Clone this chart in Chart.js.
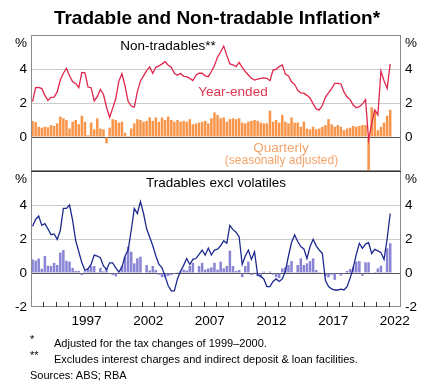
<!DOCTYPE html>
<html>
<head>
<meta charset="utf-8">
<script src="https://cdn.jsdelivr.net/npm/chart.js@4.4.1/dist/chart.umd.min.js"></script>
<style>
  body { margin: 0; background: #fff; }
  #wrap { position: relative; width: 433px; height: 391px; overflow: hidden; font-family: Arial, "Liberation Sans", sans-serif; color: #000; }
  canvas { position: absolute; left: 0; }
  .lbl { position: absolute; white-space: nowrap; line-height: 1; transform: translate(-50%, -50%); font-size: 13.5px; z-index: 5; }
  .note { position: absolute; white-space: nowrap; line-height: 1; font-size: 11px; }
</style>
</head>
<body>
<div id="wrap">
  <div class="lbl" style="left:217px; top:17px; font-size:19px; font-weight:bold;">Tradable and Non-tradable Inflation*</div>
  <canvas id="topChart" width="433" height="191" style="top:0;"></canvas>
  <canvas id="bottomChart" width="433" height="185" style="top:150px;"></canvas>

  <div class="lbl" style="left:168px; top:45.5px;">Non-tradables**</div>
  <div class="lbl" style="left:233px; top:92px; color:#e0344f;">Year-ended</div>
  <div class="lbl" style="left:281px; top:147.5px; color:#f4a46a;">Quarterly</div>
  <div class="lbl" style="left:281.5px; top:160px; color:#f4a46a; font-size:12px;">(seasonally adjusted)</div>
  <div class="lbl" style="left:216px; top:183px;">Tradables excl volatiles</div>

  <div class="note" style="left:30px; top:334px;">*</div>
  <div class="note" style="left:54px; top:338px;">Adjusted for the tax changes of 1999–2000.</div>
  <div class="note" style="left:30px; top:350px;">**</div>
  <div class="note" style="left:54px; top:354px;">Excludes interest charges and indirect deposit &amp; loan facilities.</div>
  <div class="note" style="left:30px; top:370px;">Sources: ABS; RBA</div>
</div>

<script>
// quarterly data, March quarter 1993 to March quarter 2022
const firstYear = 1993;

// non-tradables, year-ended %
const nonTradablesYearEnded = [
  2.08, 2.9, 2.92, 2.85, 2.45, 2.15, 2.33, 2.35, 2.65, 3.35,
  3.75, 4.04, 3.6, 3.25, 3.15, 2.9, 3.8, 3.78, 2.94, 2.9,
  2.12, 2.37, 2.8, 2.5, 1.75, 1.16, 1.7, 2.25, 3.3, 3.72,
  3.0, 2.1, 1.82, 1.76, 2.67, 3.3, 3.6, 3.9, 4.12, 3.75,
  4.1, 4.18, 4.3, 4.43, 4.22, 4.1, 3.75, 3.63, 3.75, 3.57,
  3.55, 3.45, 3.32, 3.63, 3.75, 3.75, 3.6, 3.55, 3.85, 4.2,
  4.7, 5.0, 5.35, 4.8, 4.3, 4.25, 4.14, 4.39, 4.1, 3.85,
  3.65, 3.45, 3.35, 3.4, 3.45, 3.48, 3.45, 3.31, 3.94, 3.98,
  4.14, 4.24, 3.7, 3.59, 3.25, 3.1, 2.75, 2.6, 2.58, 2.45,
  2.3, 1.95, 1.65, 1.59, 1.85, 2.35, 2.6, 2.85, 3.16, 3.16,
  3.12, 2.65, 2.35, 2.2, 1.88, 1.72, 1.78, 1.95, 2.2, -0.18,
  0.8, 1.59, 1.3, 3.88, 3.3, 2.85, 4.3
];

// non-tradables, quarterly % (seasonally adjusted)
const nonTradablesQuarterly = [
  0.94, 0.88, 0.6, 0.55, 0.6, 0.57, 0.7, 0.65, 0.8, 1.2,
  1.1, 1.0, 0.5, 0.9, 1.0, 0.75, 1.25, 0.9, 0.1, 0.85,
  0.45, 1.1, 0.5, 0.45, -0.37, 0.55, 1.05, 1.0, 0.85, 0.9,
  0.25, 0.05, 0.5, 0.8, 1.05, 1.0, 0.9, 0.95, 1.15, 0.95,
  1.15, 0.9, 1.15, 1.0, 1.2, 1.0, 0.9, 1.0, 0.9, 0.95,
  0.9, 1.05, 0.75, 0.8, 0.85, 0.9, 0.95, 0.8, 1.1, 1.45,
  1.3, 1.1, 1.15, 0.9, 1.05, 1.1, 1.05, 1.1, 0.85, 0.8,
  0.9, 0.95, 1.0, 0.95, 0.85, 0.8, 0.8, 1.55, 0.9, 1.0,
  0.85, 1.3, 0.9, 0.8, 1.15, 0.85, 0.85, 0.6, 0.9, 0.5,
  0.45, 0.6, 0.45, 0.5, 0.6, 0.7, 1.05, 0.75, 0.6, 0.7,
  0.6, 0.4, 0.5, 0.55, 0.65, 0.6, 0.65, 0.7, 0.7, -3.0,
  1.75, 1.5, 0.4, 0.6, 0.85, 1.25, 1.6
];

// tradables excl volatiles, year-ended %
const tradablesYearEnded = [
  2.75, 3.15, 3.35, 2.8, 2.9, 2.6, 2.25, 2.3, 1.98, 2.5,
  3.8, 3.8, 4.0, 3.1, 1.9, 1.25, 0.6, 0.15, 0.25, 0.5,
  1.05, 1.0, 0.9, 0.41, 0.2, 0.6, 0.6, 0.3, 0.05, 0.35,
  1.0, 1.35, 2.5, 3.8, 3.5, 4.2, 3.5, 2.6, 2.1, 1.6,
  1.0, 0.5, 0.3, -0.2, -0.75, -1.05, -1.05, -0.35, 0.1, 0.45,
  0.85, 0.5, 0.8, 0.85, 1.1, 1.35, 1.05, 1.47, 1.06, 1.35,
  1.4, 1.6, 1.9, 1.75, 2.8, 2.55, 2.4, 2.14, 0.5, 1.0,
  1.35, 0.8, 1.25, -0.12, -0.2, -0.35, -0.8, -0.8, -0.5, -0.35,
  -0.5, -0.35, 0.1, 1.0, 1.8, 2.24, 1.85, 1.55, 1.42, 0.85,
  1.55, 1.98, 1.6, 1.35, 1.15, -0.45, -0.8, -0.94, -1.0, -1.0,
  -0.95, -1.0, -0.8, -0.3, 0.3, 1.1, 1.75, 1.45, 1.7, 1.78,
  1.15, 1.39, 1.3, 1.2, 0.8, 2.0, 3.5
];

// tradables excl volatiles, quarterly %
const tradablesQuarterly = [
  0.8, 0.73, 0.85, 0.25, 1.0, 0.43, 0.41, 0.6, 0.47, 1.2,
  1.35, 0.72, 0.67, 0.3, 0.12, 0.12, -0.12, 0.1, 0.27, 0.4,
  0.41, 0.05, 0.3, 0.1, 0.27, -0.05, -0.12, -0.2, -0.05, 0.41,
  0.96, 1.55, 1.25, 0.57, 0.86, 0.96, 0.0, 0.47, 0.15, 0.41,
  0.18, -0.1, -0.25, -0.25, -0.18, -0.12, -0.06, 0.05, 0.1, 0.2,
  0.15, 0.41, 0.6, 0.02, 0.41, 0.6, 0.2, 0.27, 0.33, 0.6,
  0.2, 0.67, 0.27, 0.41, 1.31, 0.41, 0.12, 0.18, -0.25, 0.41,
  0.67, -0.12, 0.04, -0.18, -0.25, 0.08, 0.0, 0.08, -0.1, -0.25,
  -0.3, 0.27, 0.33, 0.47, 0.7, 0.05, 0.47, 0.86, 0.47, 0.57,
  0.7, 0.86, 0.18, 0.05, 0.0, -0.2, -0.25, -0.1, -0.4, -0.05,
  -0.15, -0.05, 0.12, 0.24, 0.37, 0.67, 0.7, -0.16, 0.63, 0.63,
  0.0, 0.05, 0.27, 0.43, 0.05, 1.45, 1.75
];

const yearLabels = [1997, 2002, 2007, 2012, 2017, 2022];
const yTicks = [-2, 0, 2, 4, 6];
const xMin = 1993, xMax = 2023;

// quarter labels like '1993-Q1'
const quarterLabels = nonTradablesYearEnded.map((_, i) =>
  (firstYear + Math.floor(i / 4)) + '-Q' + (i % 4 + 1));

function quarterToX(lbl) {
  const parts = lbl.split('-Q');
  return +parts[0] + (+parts[1] - 0.5) / 4;
}

function toPoints(values) {
  return values.map((v, i) => ({ x: quarterToX(quarterLabels[i]), y: v }));
}

Chart.defaults.font.family = 'Arial, "Liberation Sans", sans-serif';
Chart.defaults.font.size = 13.5;
Chart.defaults.color = '#000';

function gridColor(c) {
  const v = c.tick.value;
  if (v === 0) return '#555555';
  if (v === 2 || v === 4) return '#cccccc';
  return 'rgba(0,0,0,0)';
}

function yAxis(position, showBottom, width) {
  return {
    position: position,
    min: -2,
    max: 6,
    afterBuildTicks: axis => { axis.ticks = yTicks.map(v => ({ value: v })); },
    afterFit: axis => { axis.width = width; },
    ticks: {
      padding: 4,
      autoSkip: false,
      callback: v => v === 6 ? ['', '%'] : (v === -2 && !showBottom ? '' : v)
    },
    grid: position === 'left'
      ? { color: gridColor, drawTicks: false, lineWidth: 1 }
      : { display: false, drawTicks: false },
    border: { display: false }
  };
}

const framePlugin = {
  id: 'frame',
  afterDraw(chart) {
    const ctx = chart.ctx;
    const a = chart.chartArea;
    ctx.save();
    ctx.strokeStyle = '#8a8a8a';
    ctx.lineWidth = 1;
    ctx.strokeRect(a.left + 0.5, a.top + 0.5, a.right - a.left - 1, a.bottom - a.top - 1);
    if (chart.canvas.id === 'bottomChart') {
      // yearly tick marks inside the bottom edge
      const xs = chart.scales.x;
      ctx.strokeStyle = '#333';
      ctx.beginPath();
      for (let yr = xMin + 1; yr < xMax; yr++) {
        const px = Math.round(xs.getPixelForValue(yr)) + 0.5;
        ctx.moveTo(px, a.bottom);
        ctx.lineTo(px, a.bottom - 5);
      }
      ctx.stroke();
      // darker divider between panels
      ctx.strokeStyle = '#333';
      ctx.beginPath();
      ctx.moveTo(a.left, a.top + 0.5);
      ctx.lineTo(a.right, a.top + 0.5);
      ctx.stroke();
    }
    ctx.restore();
  }
};

function makePanel(canvasId, lineValues, barValues, lineColor, barColor, padTop, padBottom, showX) {
  new Chart(document.getElementById(canvasId), {
    type: 'bar',
    data: {
      datasets: [
        {
          type: 'line',
          data: toPoints(lineValues),
          borderColor: lineColor,
          borderWidth: 1.3,
          pointRadius: 0,
          tension: 0,
          order: 0
        },
        {
          type: 'bar',
          data: toPoints(barValues),
          backgroundColor: barColor,
          categoryPercentage: 1,
          barPercentage: 0.82,
          clip: 0,
          order: 1
        }
      ]
    },
    options: {
      responsive: false,
      animation: false,
      events: [],
      layout: { padding: { top: padTop, bottom: padBottom, left: 0, right: 0 } },
      plugins: { legend: { display: false }, tooltip: { enabled: false } },
      scales: {
        x: {
          type: 'linear',
          display: showX,
          min: xMin,
          max: xMax,
          offset: false,
          afterBuildTicks: axis => { axis.ticks = yearLabels.map(y => ({ value: y + 0.5 })); },
          afterFit: axis => { if (showX) axis.height = 28; },
          ticks: {
            autoSkip: false,
            maxRotation: 0,
            padding: 6,
            callback: v => String(Math.floor(v))
          },
          grid: { display: false, drawTicks: false },
          border: { display: false }
        },
        y: yAxis('left', showX, 31),
        y2: yAxis('right', showX, 32)
      }
    },
    plugins: [framePlugin]
  });
}

// top canvas 191 tall, chart area 35..171; bottom canvas starts at 150, chart area 171..307
makePanel('topChart', nonTradablesYearEnded, nonTradablesQuarterly, '#e0264a', '#f7964a', 35, 20, false);
makePanel('bottomChart', tradablesYearEnded, tradablesQuarterly, '#1c2a8e', '#8a84d4', 21, 0, true);
</script>
</body>
</html>
